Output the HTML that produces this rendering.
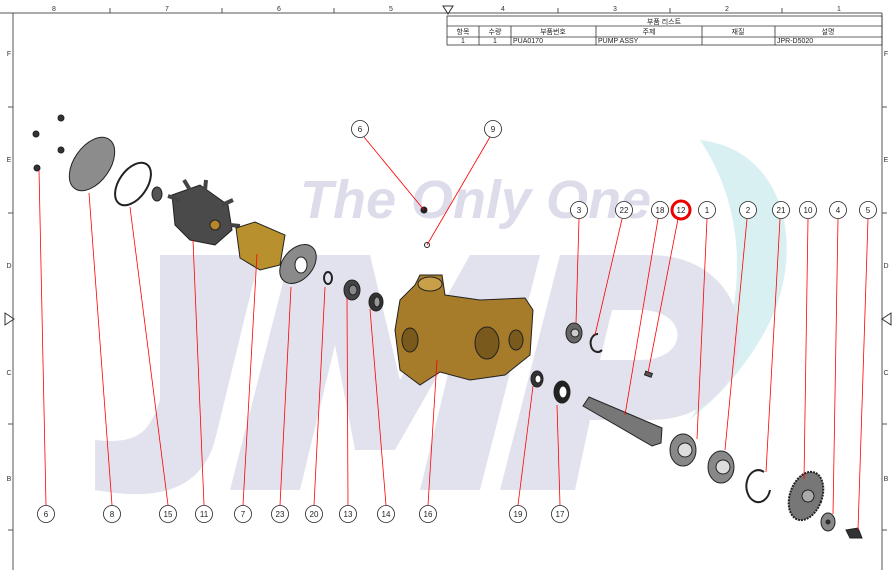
<!DOCTYPE html>
<html><head><meta charset="utf-8"><style>
html,body{margin:0;padding:0;background:#fff;}
svg{display:block;font-family:"Liberation Sans","Noto Sans CJK KR",sans-serif;}
</style></head><body>
<svg width="894" height="570" viewBox="0 0 894 570" xmlns="http://www.w3.org/2000/svg">
<rect width="894" height="570" fill="#fff"/>
<!-- watermark -->
<path d="M700 140 C790 150 810 260 760 340 C730 390 700 410 690 420 C740 340 760 230 700 140Z" fill="#d9f0f2"/>
<g fill="#e2e2ee">
<path d="M160 255 L260 255 L215 440 C200 495 150 500 95 490 L95 440 C140 445 150 430 160 400Z"/>
<path d="M230 490 L290 255 L370 255 L400 380 L470 255 L540 255 L480 490 L420 490 L455 345 L395 450 L355 450 L335 345 L300 490Z"/>
<path d="M500 490 L560 255 L650 255 C770 255 770 420 650 420 L590 420 L575 490Z M600 360 L640 360 C690 360 690 310 640 310 L612 310Z" fill-rule="evenodd"/>
</g>
<text x="300" y="218" font-size="54" font-style="italic" font-weight="bold" fill="#dcdcea">The Only One</text>
<!-- border -->
<g stroke="#555" stroke-width="1" fill="none">
<line x1="0" y1="13" x2="882" y2="13"/>
<line x1="13" y1="13" x2="13" y2="570"/>
<line x1="882" y1="13" x2="882" y2="570"/>
<path d="M110 8V13M222 8V13M334 8V13M558 8V13M670 8V13M782 8V13"/>
<path d="M8 107H13M8 213H13M8 424H13M8 530H13M882 107H887M882 213H887M882 424H887M882 530H887"/>
<path d="M443 6L453 6L448 14Z M5 313L14 319L5 325Z M891 313L882 319L891 325Z" stroke="#333"/>
</g>
<g font-size="7" fill="#333" text-anchor="middle">
<text x="54" y="11">8</text><text x="167" y="11">7</text><text x="279" y="11">6</text><text x="391" y="11">5</text><text x="503" y="11">4</text><text x="615" y="11">3</text><text x="727" y="11">2</text><text x="839" y="11">1</text>
<text x="9" y="56">F</text><text x="9" y="162">E</text><text x="9" y="268">D</text><text x="9" y="375">C</text><text x="9" y="481">B</text>
<text x="886" y="56">F</text><text x="886" y="162">E</text><text x="886" y="268">D</text><text x="886" y="375">C</text><text x="886" y="481">B</text>
</g>
<!-- table -->
<g stroke="#333" stroke-width="0.8" fill="none">
<rect x="447" y="16" width="435" height="29"/>
<line x1="447" y1="26" x2="882" y2="26"/><line x1="447" y1="37" x2="882" y2="37"/>
<path d="M479 26V45M511 26V45M596 26V45M702 26V45M775 26V45"/>
</g>
<g font-size="7" fill="#222">
<text x="664" y="24" text-anchor="middle">부품 리스트</text>
<text x="463" y="34" text-anchor="middle">항목</text><text x="495" y="34" text-anchor="middle">수량</text><text x="553" y="34" text-anchor="middle">부품번호</text><text x="649" y="34" text-anchor="middle">주제</text><text x="738" y="34" text-anchor="middle">재질</text><text x="828" y="34" text-anchor="middle">설명</text>
<text x="463" y="43" text-anchor="middle">1</text><text x="495" y="43" text-anchor="middle">1</text><text x="513" y="43">PUA0170</text><text x="598" y="43">PUMP ASSY</text><text x="777" y="43">JPR-D5020</text>
</g>
<!-- parts -->
<g stroke="#222" stroke-width="1">
<g fill="#333"><circle cx="36" cy="134" r="3"/><circle cx="61" cy="118" r="3"/><circle cx="61" cy="150" r="3"/><circle cx="37" cy="168" r="3"/></g>
<ellipse cx="92" cy="164" rx="18" ry="30" transform="rotate(35 92 164)" fill="#8c8c8c"/>
<ellipse cx="133" cy="184" rx="14" ry="24" transform="rotate(35 133 184)" fill="none" stroke-width="2"/>
<ellipse cx="157" cy="194" rx="5" ry="7" fill="#555"/>
<path d="M172 195 L200 185 L228 205 L232 230 L215 245 L190 240 L175 225Z" fill="#4a4a4a"/>
<path d="M180 200 L168 196 M190 190 L184 180 M205 190 L206 180 M222 205 L233 200 M230 225 L240 226" stroke="#444" stroke-width="4"/>
<circle cx="215" cy="225" r="5" fill="#b8862a"/>
<path d="M236 228 L255 222 L285 235 L280 265 L260 270 L240 258Z" fill="#b8902e"/>
<ellipse cx="298" cy="264" rx="15" ry="22" transform="rotate(40 298 264)" fill="#8a8a8a"/>
<ellipse cx="301" cy="265" rx="6" ry="8" fill="#fff"/>
<ellipse cx="328" cy="278" rx="4" ry="6" fill="none" stroke-width="2"/>
<ellipse cx="352" cy="290" rx="8" ry="10" fill="#444"/><ellipse cx="353" cy="290" rx="4" ry="5" fill="#888"/>
<ellipse cx="376" cy="302" rx="7" ry="9" fill="#333"/><ellipse cx="377" cy="302" rx="3" ry="5" fill="#999"/>
<path d="M400 300 L415 285 L420 275 L442 275 L445 295 L480 300 L525 298 L533 310 L530 355 L505 375 L470 380 L440 372 L420 385 L400 370 L395 330Z" fill="#a67c2a"/>
<ellipse cx="430" cy="284" rx="12" ry="7" fill="#c9a04a"/>
<ellipse cx="487" cy="343" rx="12" ry="16" fill="#7a5a1c"/><ellipse cx="516" cy="340" rx="7" ry="10" fill="#7a5a1c"/>
<ellipse cx="410" cy="340" rx="8" ry="12" fill="#7a5a1c"/>
<circle cx="424" cy="210" r="3" fill="#222"/><circle cx="427" cy="245" r="2.5" fill="none"/>
<ellipse cx="574" cy="333" rx="8" ry="10" fill="#666"/><circle cx="575" cy="333" r="4" fill="#ccc"/>
<path d="M598 334 A7 9 0 1 0 602 350" fill="none" stroke-width="2"/>
<rect x="645" y="372" width="7" height="4" fill="#555" transform="rotate(20 648 374)"/>
<ellipse cx="537" cy="379" rx="6" ry="8" fill="#333"/><ellipse cx="538" cy="379" rx="3" ry="4" fill="#fff"/>
<ellipse cx="562" cy="392" rx="8" ry="11" fill="#222"/><ellipse cx="563" cy="392" rx="4" ry="6" fill="#fff"/>
<path d="M583 406 L589 397 L662 428 L661 443 L652 446 Z" fill="#777"/>
<ellipse cx="683" cy="450" rx="13" ry="16" fill="#888"/><circle cx="685" cy="450" r="7" fill="#ddd"/>
<ellipse cx="721" cy="467" rx="13" ry="16" fill="#888"/><circle cx="723" cy="467" r="7" fill="#ddd"/>
<path d="M764 472 A12 16 0 1 0 770 490" fill="none" stroke-width="2"/>
<ellipse cx="806" cy="496" rx="16" ry="25" transform="rotate(20 806 496)" fill="#777" stroke-dasharray="2 1" stroke-width="2"/>
<circle cx="808" cy="496" r="6" fill="#aaa"/>
<ellipse cx="828" cy="522" rx="7" ry="9" fill="#888"/><circle cx="828" cy="522" r="2" fill="#333"/>
<path d="M846 530 L858 528 L862 538 L850 538Z" fill="#333"/>
</g>
<!-- leaders -->
<g stroke="#f00" stroke-width="0.8">
<line x1="46" y1="505" x2="39" y2="170"/><line x1="112" y1="505" x2="89" y2="193"/><line x1="168" y1="505" x2="130" y2="207"/><line x1="204" y1="505" x2="193" y2="240"/><line x1="243" y1="505" x2="257" y2="254"/><line x1="280" y1="505" x2="291" y2="287"/><line x1="314" y1="505" x2="325" y2="287"/><line x1="348" y1="505" x2="347" y2="298"/><line x1="386" y1="505" x2="370" y2="309"/><line x1="428" y1="505" x2="437" y2="360"/><line x1="518" y1="505" x2="533" y2="386"/><line x1="560" y1="505" x2="557" y2="405"/>
<line x1="364" y1="137" x2="424" y2="210"/><line x1="490" y1="137" x2="427" y2="245"/>
<line x1="579" y1="219" x2="576" y2="323"/><line x1="622" y1="219" x2="595" y2="335"/><line x1="658" y1="219" x2="625" y2="415"/><line x1="678" y1="219" x2="648" y2="373"/><line x1="707" y1="219" x2="697" y2="439"/><line x1="747" y1="219" x2="725" y2="450"/><line x1="780" y1="219" x2="766" y2="472"/><line x1="808" y1="219" x2="804" y2="479"/><line x1="838" y1="219" x2="833" y2="514"/><line x1="868" y1="219" x2="858" y2="530"/>
</g>
<!-- balloons -->
<g fill="#fff" stroke="#222" stroke-width="0.8">
<circle cx="46" cy="514" r="8.5"/><circle cx="112" cy="514" r="8.5"/><circle cx="168" cy="514" r="8.5"/><circle cx="204" cy="514" r="8.5"/><circle cx="243" cy="514" r="8.5"/><circle cx="280" cy="514" r="8.5"/><circle cx="314" cy="514" r="8.5"/><circle cx="348" cy="514" r="8.5"/><circle cx="386" cy="514" r="8.5"/><circle cx="428" cy="514" r="8.5"/><circle cx="518" cy="514" r="8.5"/><circle cx="560" cy="514" r="8.5"/>
<circle cx="360" cy="129" r="8.5"/><circle cx="493" cy="129" r="8.5"/>
<circle cx="579" cy="210" r="8.5"/><circle cx="624" cy="210" r="8.5"/><circle cx="660" cy="210" r="8.5"/><circle cx="707" cy="210" r="8.5"/><circle cx="748" cy="210" r="8.5"/><circle cx="781" cy="210" r="8.5"/><circle cx="808" cy="210" r="8.5"/><circle cx="838" cy="210" r="8.5"/><circle cx="868" cy="210" r="8.5"/>
<circle cx="681" cy="210" r="9" stroke="#e00" stroke-width="3"/>
</g>
<g font-size="8" fill="#222" text-anchor="middle">
<text x="46" y="517">6</text><text x="112" y="517">8</text><text x="168" y="517">15</text><text x="204" y="517">11</text><text x="243" y="517">7</text><text x="280" y="517">23</text><text x="314" y="517">20</text><text x="348" y="517">13</text><text x="386" y="517">14</text><text x="428" y="517">16</text><text x="518" y="517">19</text><text x="560" y="517">17</text>
<text x="360" y="132">6</text><text x="493" y="132">9</text>
<text x="579" y="213">3</text><text x="624" y="213">22</text><text x="660" y="213">18</text><text x="681" y="213">12</text><text x="707" y="213">1</text><text x="748" y="213">2</text><text x="781" y="213">21</text><text x="808" y="213">10</text><text x="838" y="213">4</text><text x="868" y="213">5</text>
</g>
</svg>
</body></html>
